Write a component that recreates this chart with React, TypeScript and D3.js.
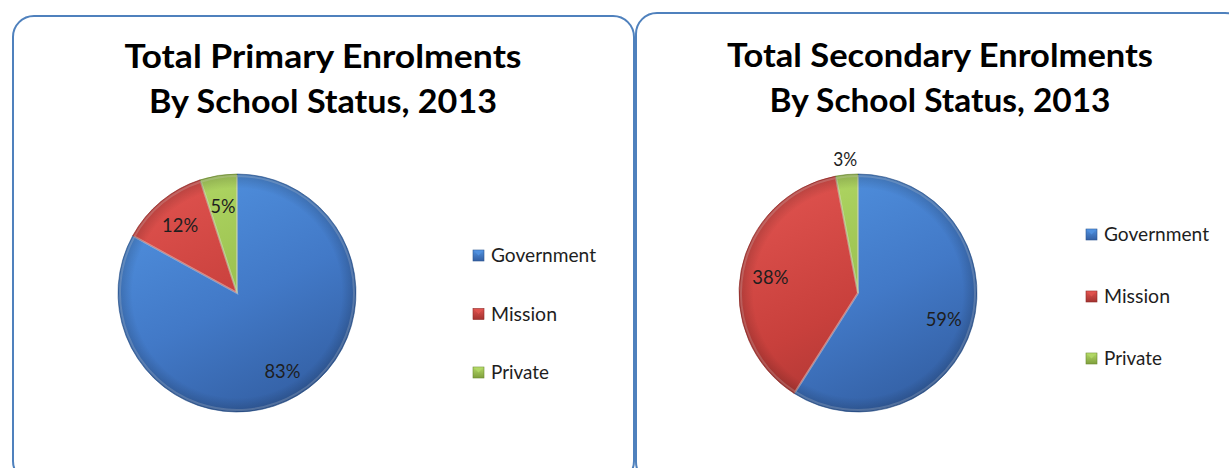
import React from "react";
import * as d3 from "d3";

// ---- data ----
const categories = ["Government", "Mission", "Private"];
const primaryValues = [83, 12, 5];
const secondaryValues = [59, 38, 3];
const primaryTitle = ["Total Primary Enrolments", "By School Status, 2013"];
const secondaryTitle = ["Total Secondary Enrolments", "By School Status, 2013"];

const palette: Record<string, { light: string; mid: string; dark: string; edge: string }> = {
  Government: { light: "#5192e0", mid: "#4279c7", dark: "#335fa3", edge: "#2d568f" },
  Mission: { light: "#e0534f", mid: "#c8403c", dark: "#a33330", edge: "#8e2a27" },
  Private: { light: "#b2d866", mid: "#98bf4d", dark: "#7f9f3c", edge: "#6c8a31" },
};

const W = 1229;
const H = 468;
const FONT = "Lato, 'Open Sans', sans-serif";

interface PanelProps {
  id: string;
  values: number[];
  title: string[];
  panel: { x: number; y: number; w: number; h: number };
  cx: number;
  cy: number;
  r: number;
  titleX: number;
  titleY: number[];
  titleW: number[];
  legendX: number;
  legendY: number;
  legendStep: number;
  labelW: Record<string, number>;
}

const legendW: Record<string, number> = { Government: 105, Mission: 66, Private: 58 };

const Panel: React.FC<PanelProps> = (p) => {
  const pie = d3
    .pie<number>()
    .sort(null)
    .value((d) => d);
  const arcs = pie(p.values);
  const arc = d3.arc<d3.PieArcDatum<number>>().innerRadius(0).outerRadius(p.r);
  const innerArc = d3.arc<d3.PieArcDatum<number>>().innerRadius(0).outerRadius(p.r - 2);
  const labelArc = d3.arc<d3.PieArcDatum<number>>().innerRadius(p.r * 0.75).outerRadius(p.r * 0.75);
  const outerLabelArc = d3.arc<d3.PieArcDatum<number>>().innerRadius(p.r * 1.14).outerRadius(p.r * 1.14);

  return (
    <g>
      <defs>
        {categories.map((c) => (
          <linearGradient
            key={c}
            id={`${p.id}-g-${c}`}
            gradientUnits="userSpaceOnUse"
            x1={-p.r * 0.6}
            y1={-p.r}
            x2={p.r * 0.4}
            y2={p.r}
          >
            <stop offset="0%" stopColor={palette[c].light} />
            <stop offset="55%" stopColor={palette[c].mid} />
            <stop offset="100%" stopColor={palette[c].dark} />
          </linearGradient>
        ))}
        {categories.map((c) => (
          <linearGradient key={`k${c}`} id={`${p.id}-k-${c}`} x1="0" y1="0" x2="0" y2="1">
            <stop offset="0%" stopColor={palette[c].light} />
            <stop offset="100%" stopColor={palette[c].dark} />
          </linearGradient>
        ))}
        <radialGradient id={`${p.id}-rim`} cx={0} cy={0} r={p.r} gradientUnits="userSpaceOnUse">
          <stop offset="88%" stopColor="#000" stopOpacity={0} />
          <stop offset="100%" stopColor="#000" stopOpacity={0.18} />
        </radialGradient>
      </defs>

      <rect
        x={p.panel.x}
        y={p.panel.y}
        width={p.panel.w}
        height={p.panel.h}
        rx={21}
        ry={21}
        fill="#fff"
        stroke="#4f81bd"
        strokeWidth={2}
      />

      {p.title.map((t, i) => (
        <text
          key={i}
          x={p.titleX}
          y={p.titleY[i]}
          textAnchor="middle"
          fontFamily={FONT}
          fontWeight={700}
          fontSize={32}
          textLength={p.titleW[i]}
          lengthAdjust="spacingAndGlyphs"
          fill="#000"
        >
          {t}
        </text>
      ))}

      <g transform={`translate(${p.cx},${p.cy})`}>
        {arcs.map((a, i) => (
          <path
            key={i}
            d={arc(a) || ""}
            fill={`url(#${p.id}-g-${categories[i]})`}
            stroke={palette[categories[i]].edge}
            strokeWidth={0.6}
          />
        ))}
        {arcs.map((a, i) => (
          <path
            key={`h${i}`}
            d={innerArc(a) || ""}
            fill="none"
            stroke="#fff"
            strokeOpacity={0.22}
            strokeWidth={2}
          />
        ))}
        <circle r={p.r} fill={`url(#${p.id}-rim)`} />
        {arcs.map((a, i) => {
          const inside = a.value >= 4;
          const [lx, ly] = inside ? labelArc.centroid(a) : outerLabelArc.centroid(a);
          const txt = `${a.value}%`;
          return (
            <text
              key={`l${i}`}
              x={lx}
              y={ly}
              textAnchor="middle"
              dominantBaseline="central"
              fontFamily={FONT}
              fontSize={20}
              textLength={p.labelW[txt]}
              lengthAdjust="spacingAndGlyphs"
              fill="#1e1e1e"
            >
              {txt}
            </text>
          );
        })}
      </g>

      {categories.map((c, i) => {
        const y = p.legendY + i * p.legendStep;
        return (
          <g key={c} transform={`translate(${p.legendX},${y})`}>
            <rect width={11} height={11} fill={`url(#${p.id}-k-${c})`} stroke={palette[c].edge} strokeWidth={0.6} />
            <path d="M0.5,0.5 L5.5,5.5 L10.5,0.5 Z" fill={palette[c].light} opacity={0.85} />
            <text
              x={18}
              y={12}
              fontFamily={FONT}
              fontSize={19}
              textLength={legendW[c]}
              lengthAdjust="spacingAndGlyphs"
              fill="#1e1e1e"
            >
              {c}
            </text>
          </g>
        );
      })}
    </g>
  );
};

const App: React.FC = () => {
  return (
    <svg
      width={W}
      height={H}
      viewBox={`0 0 ${W} ${H}`}
      style={{ position: "absolute", left: 0, top: 0, background: "#fff" }}
    >
      <rect width={W} height={H} fill="#fff" />
      <Panel
        id="pri"
        values={primaryValues}
        title={primaryTitle}
        panel={{ x: 13, y: 16, w: 621, h: 466 }}
        cx={237}
        cy={293}
        r={119}
        titleX={323}
        titleY={[68, 113]}
        titleW={[397, 348]}
        legendX={473}
        legendY={250}
        legendStep={58.5}
        labelW={{ "83%": 36, "12%": 36, "5%": 25 }}
      />
      <Panel
        id="sec"
        values={secondaryValues}
        title={secondaryTitle}
        panel={{ x: 636, y: 13, w: 610, h: 470 }}
        cx={858}
        cy={293}
        r={119}
        titleX={940}
        titleY={[67, 112]}
        titleW={[426, 341]}
        legendX={1086}
        legendY={229}
        legendStep={62}
        labelW={{ "59%": 36, "38%": 36, "3%": 24 }}
      />
    </svg>
  );
};

export default App;
